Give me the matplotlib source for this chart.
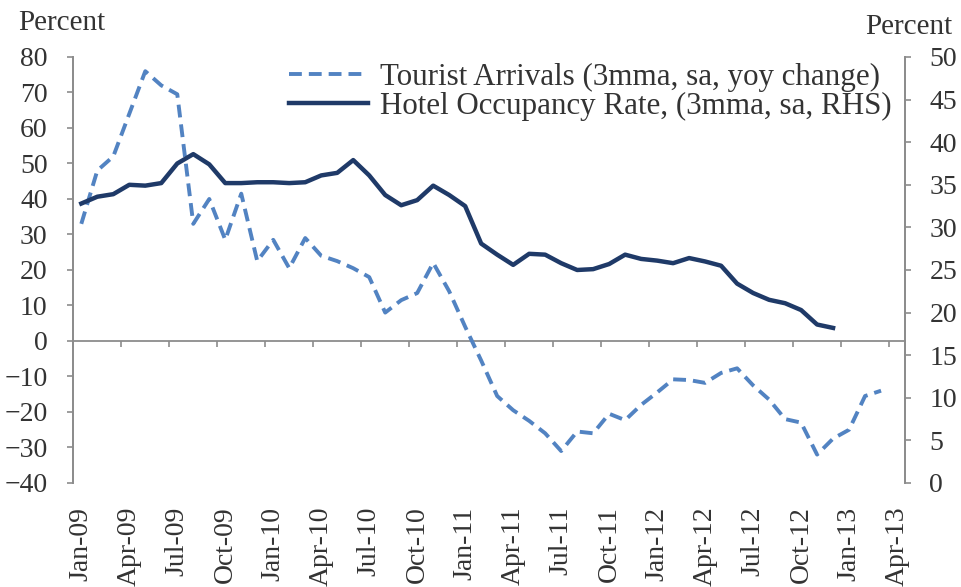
import matplotlib
matplotlib.use("Agg")
import matplotlib.pyplot as plt
from matplotlib.lines import Line2D
import pandas as pd

# ---- data ----
months = list(pd.date_range("2009-01-01", "2013-04-01", freq="MS").strftime("%b-%y"))
tourist_arrivals = [33, 48, 52, 64, 76, 72, 69.5, 33, 40, 28.5,
                    41.5, 22.5, 28.5, 20.5, 29, 24, 22.5, 20.5, 18, 8,
                    11.5, 13.5, 22, 14, 4, -5.5, -15.5, -19.5, -22.5, -26,
                    -31, -25.5, -26, -20.5, -22.3, -18, -14.5, -10.8, -11, -11.8,
                    -9, -7.7, -12.5, -16.5, -22, -23, -32, -27.5, -25, -15.5, -14]
hotel_occupancy = [32.8, 33.6, 33.9, 35.0, 34.9, 35.2, 37.5, 38.6, 37.4, 35.2,
                   35.2, 35.3, 35.3, 35.2, 35.3, 36.1, 36.4, 37.9, 36.1, 33.8,
                   32.6, 33.2, 34.9, 33.8, 32.5, 28.1, 26.8, 25.6, 26.9, 26.8,
                   25.8, 25.0, 25.1, 25.7, 26.8, 26.3, 26.1, 25.8, 26.4, 26.0,
                   25.5, 23.4, 22.3, 21.5, 21.1, 20.3, 18.6, 18.2]
left_ticks = list(range(-40, 81, 10))
right_ticks = list(range(0, 51, 5))
label_tourist = "Tourist Arrivals (3mma, sa, yoy change)"
label_hotel = "Hotel Occupancy Rate, (3mma, sa, RHS)"

# ---- style ----
FONT = "Liberation Serif"
TXT = "#333333"
AXC = "#8c8c8c"
C_DASH = "#5283c2"
C_SOLID = "#1f3a68"
plt.rcParams["font.family"] = [FONT, "DejaVu Serif"]

fig = plt.figure(figsize=(9.62, 5.87), dpi=100)
ax = fig.add_axes([0.0762, 0.1772, 0.8646, 0.7257])
ax2 = ax.twinx()

x_t = list(range(len(tourist_arrivals)))
x_h = list(range(len(hotel_occupancy)))

ax.plot(x_t, tourist_arrivals, color=C_DASH, lw=2.8, dashes=(3.3, 1.8),
        solid_capstyle="butt", dash_capstyle="butt", zorder=3)
ax2.plot(x_h, hotel_occupancy, color=C_SOLID, lw=3.2, solid_joinstyle="round", zorder=3)

ax.set_xlim(-0.5, len(months) - 0.5)
ax.set_ylim(-40, 80)
ax2.set_ylim(0, 50)

# left axis
ax.set_yticks(left_ticks)
ax.tick_params(axis="y", direction="out", length=4.5, width=1.2, color=AXC,
               labelsize=20, labelcolor=TXT, pad=14)
# right axis
ax2.set_yticks(right_ticks)
ax2.tick_params(axis="y", direction="out", length=4.5, width=1.2, color=AXC,
                labelsize=20, labelcolor=TXT, pad=13)

for a in (ax, ax2):
    a.spines["top"].set_visible(False)
    a.spines["left"].set_color(AXC)
    a.spines["right"].set_color(AXC)
    a.spines["left"].set_linewidth(1.3)
    a.spines["right"].set_linewidth(1.3)
ax2.spines["bottom"].set_visible(False)

# horizontal category axis crossing at zero
ax.spines["bottom"].set_position(("data", 0))
ax.spines["bottom"].set_color(AXC)
ax.spines["bottom"].set_linewidth(1.3)
boundaries = [i - 0.5 for i in range(0, len(months), 3)]
ax.set_xticks(boundaries)
ax.set_xticklabels([""] * len(boundaries))
ax.tick_params(axis="x", direction="out", length=4, width=1.2, color=AXC)

sec = ax.secondary_xaxis("bottom")
sec.spines["bottom"].set_visible(False)
lab_pos = list(range(0, len(months), 3))
sec.set_xticks(lab_pos)
sec.set_xticklabels([months[i] for i in lab_pos], rotation=90)
sec.tick_params(axis="x", length=0, labelsize=20, labelcolor=TXT, pad=17)

# legend
handles = [Line2D([], [], color=C_DASH, lw=2.8, dashes=(3.3, 1.8)),
           Line2D([], [], color=C_SOLID, lw=3.2)]
leg = ax2.legend(handles, [label_tourist, label_hotel], loc="upper left",
                 bbox_to_anchor=(289 / 962, 1 - 63 / 587), bbox_transform=fig.transFigure,
                 frameon=False, fontsize=22.3, handlelength=2.55, handletextpad=0.4,
                 labelspacing=0.0, borderpad=0, borderaxespad=0)
for t in leg.get_texts():
    t.set_color(TXT)

fig.text(18 / 962, 1 - 30 / 587, "Percent", ha="left", va="baseline", fontsize=21, color=TXT)
fig.text(952 / 962, 1 - 34 / 587, "Percent", ha="right", va="baseline", fontsize=21, color=TXT)

fig.savefig("out.png", dpi=100)
